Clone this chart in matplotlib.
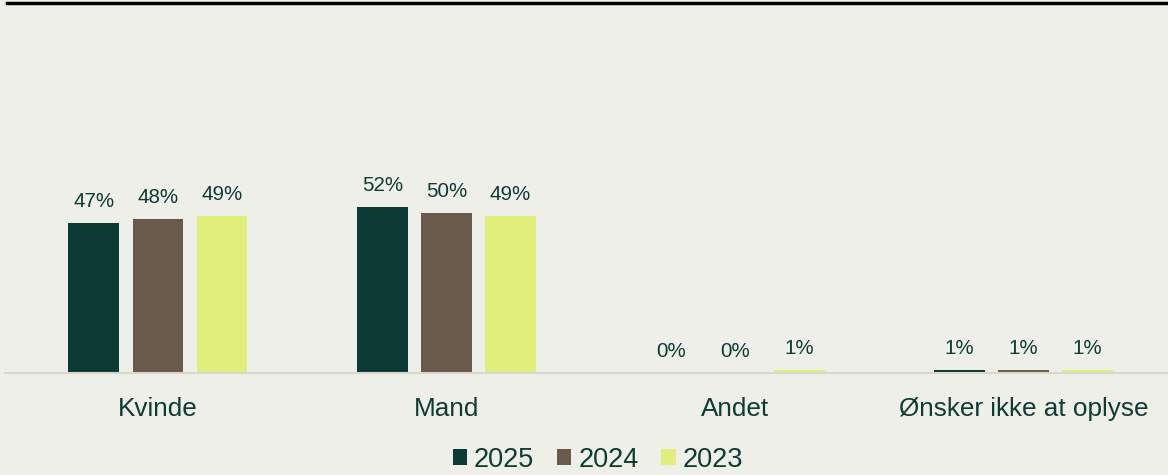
import matplotlib.pyplot as plt
import numpy as np
from matplotlib.lines import Line2D
from matplotlib.patches import Patch

# Kønsfordeling pr. år (procent)
kategorier = ['Kvinde', 'Mand', 'Andet', 'Ønsker ikke at oplyse']
aar = ['2025', '2024', '2023']
andel_2025 = [47, 52, 0, 1]
andel_2024 = [48, 50, 0, 1]
andel_2023 = [49, 49, 1, 1]

farver = ['#0b3b34', '#6a5a4b', '#e1ee7a']
tekstfarve = '#0d3c33'
baggrund = '#efefe9'

plt.rcParams['font.family'] = ['Liberation Sans', 'DejaVu Sans']

fig = plt.figure(figsize=(11.68, 4.75), dpi=100, facecolor=baggrund)
ax = fig.add_axes([5 / 1168, 102 / 475, 1163 / 1168, 320 / 475])
ax.set_facecolor(baggrund)

x = np.arange(len(kategorier))
bredde = 0.176
afstand = 0.222

for i, (serie, farve) in enumerate(zip([andel_2025, andel_2024, andel_2023], farver)):
    pos = x + (i - 1) * afstand
    bars = ax.bar(pos, serie, width=bredde, color=farve, zorder=2)
    for b, v in zip(bars, serie):
        ax.annotate(f'{v}%', (b.get_x() + b.get_width() / 2, b.get_height()),
                    xytext=(0, 11.5), textcoords='offset points',
                    ha='center', va='baseline', fontsize=14.8, color=tekstfarve)

ax.set_xlim(-0.53, 3.5)
ax.set_ylim(0, 100)
ax.set_yticks([])
ax.set_xticks(x)
ax.set_xticklabels(kategorier, fontsize=18.8, color=tekstfarve)
ax.tick_params(axis='x', length=0, pad=17)
for s in ['top', 'right', 'left']:
    ax.spines[s].set_visible(False)
ax.spines['bottom'].set_color('#d8d8cf')
ax.spines['bottom'].set_linewidth(1.5)

# sort streg i toppen
fig.add_artist(Line2D([7 / 1168, 1], [1 - 3 / 475, 1 - 3 / 475],
                      transform=fig.transFigure, color='black', linewidth=2.5))

handles = [Patch(facecolor=f, edgecolor='none') for f in farver]
fig.legend(handles, aar, loc='center', bbox_to_anchor=(0.512, 0.032),
           ncol=3, frameon=False, fontsize=19.5, labelcolor=tekstfarve,
           handlelength=0.52, handleheight=0.52, handletextpad=0.25,
           columnspacing=0.85, borderpad=0)

fig.savefig('out.png', dpi=100, facecolor=baggrund)
